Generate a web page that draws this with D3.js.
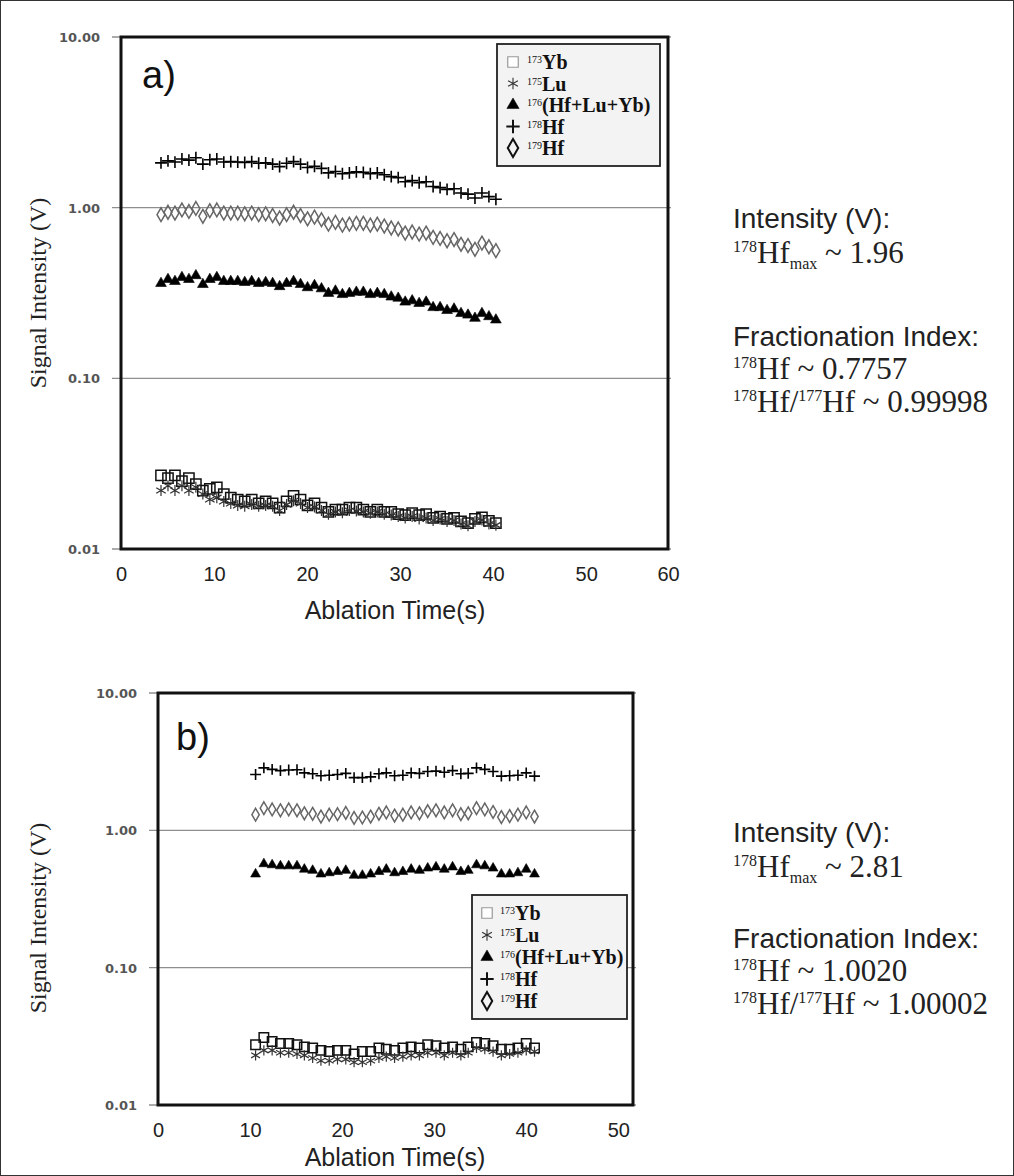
<!DOCTYPE html>
<html><head><meta charset="utf-8">
<script src="https://cdn.jsdelivr.net/npm/d3@7"></script>
<style>body{margin:0;background:#fff}</style></head>
<body><svg id="c" width="1014" height="1176"></svg>
<script>
// ---------- DATA ----------
const seriesNames = ["173Yb","175Lu","176(Hf+Lu+Yb)","178Hf","179Hf"];
const yTickLabels = ["10.00","1.00","0.10","0.01"];
const yTickValues = [10,1,0.1,0.01];
const xTicksA = [0,10,20,30,40,50,60];
const xTicksB = [0,10,20,30,40,50];

const timesA = [4.3,5.05,5.8,6.55,7.3,8.05,8.8,9.55,10.3,11.05,11.8,12.55,13.3,14.05,14.8,15.55,16.3,17.05,17.8,18.55,19.3,20.05,20.8,21.55,22.3,23.05,23.8,24.55,25.3,26.05,26.8,27.55,28.3,29.05,29.8,30.55,31.3,32.05,32.8,33.55,34.3,35.05,35.8,36.55,37.3,38.05,38.8,39.55,40.3];
const yb173A = [0.027,0.026,0.027,0.025,0.026,0.024,0.022,0.0225,0.023,0.021,0.020,0.0195,0.019,0.0195,0.0185,0.019,0.0185,0.0175,0.019,0.0205,0.0195,0.018,0.0185,0.0175,0.0165,0.017,0.017,0.0175,0.0175,0.017,0.0165,0.017,0.0165,0.0165,0.016,0.0158,0.0162,0.0158,0.016,0.0152,0.0155,0.015,0.0152,0.0145,0.0142,0.015,0.0153,0.0146,0.0142];
const lu175A = [0.022,0.0235,0.022,0.0235,0.022,0.023,0.021,0.0195,0.020,0.019,0.0185,0.018,0.0178,0.0182,0.0178,0.018,0.0178,0.0168,0.0182,0.0192,0.0185,0.0175,0.0176,0.0168,0.016,0.0165,0.0163,0.0168,0.0167,0.0165,0.0162,0.0165,0.016,0.0158,0.0155,0.0152,0.0155,0.015,0.0152,0.0147,0.015,0.0145,0.0147,0.014,0.0137,0.0145,0.0148,0.014,0.0138];
const m176A = [0.36,0.38,0.37,0.39,0.38,0.40,0.355,0.38,0.39,0.37,0.37,0.37,0.365,0.37,0.36,0.365,0.36,0.345,0.36,0.37,0.355,0.34,0.35,0.335,0.315,0.325,0.31,0.315,0.32,0.32,0.31,0.315,0.31,0.30,0.295,0.28,0.285,0.275,0.28,0.26,0.26,0.25,0.255,0.24,0.235,0.225,0.24,0.23,0.22];
const hf178A = [1.83,1.88,1.85,1.93,1.90,1.96,1.80,1.91,1.93,1.85,1.86,1.85,1.84,1.86,1.82,1.83,1.80,1.74,1.82,1.86,1.80,1.72,1.75,1.70,1.60,1.63,1.58,1.60,1.62,1.61,1.58,1.60,1.56,1.52,1.50,1.42,1.44,1.40,1.42,1.33,1.31,1.28,1.29,1.22,1.20,1.14,1.22,1.16,1.12];
const hf179A = [0.91,0.94,0.93,0.97,0.95,0.99,0.89,0.96,0.97,0.93,0.93,0.93,0.92,0.93,0.91,0.92,0.90,0.87,0.91,0.94,0.90,0.86,0.88,0.85,0.80,0.82,0.79,0.80,0.81,0.81,0.79,0.80,0.78,0.76,0.75,0.71,0.72,0.70,0.71,0.67,0.66,0.64,0.65,0.61,0.60,0.57,0.62,0.59,0.56];

const timesB = [10.6,11.5,12.4,13.3,14.2,15.1,15.9,16.8,17.7,18.6,19.5,20.4,21.3,22.2,23.1,24.0,24.8,25.7,26.6,27.5,28.4,29.3,30.2,31.1,32.0,32.9,33.7,34.6,35.5,36.4,37.3,38.2,39.1,40.0,40.9];
const yb173B = [0.0275,0.031,0.029,0.028,0.028,0.0275,0.0265,0.026,0.025,0.0245,0.025,0.025,0.0235,0.0245,0.0245,0.026,0.0255,0.025,0.026,0.0265,0.026,0.0275,0.027,0.026,0.0265,0.0255,0.0265,0.0285,0.028,0.027,0.0255,0.0255,0.026,0.028,0.026];
const lu175B = [0.023,0.025,0.025,0.024,0.024,0.0235,0.023,0.022,0.021,0.021,0.0215,0.0215,0.0205,0.0205,0.021,0.022,0.0225,0.022,0.0225,0.023,0.023,0.024,0.024,0.023,0.024,0.023,0.024,0.026,0.0255,0.0245,0.023,0.0235,0.024,0.025,0.0245];
const m176B = [0.48,0.57,0.56,0.55,0.55,0.55,0.52,0.51,0.48,0.49,0.50,0.51,0.47,0.47,0.48,0.50,0.52,0.49,0.50,0.52,0.51,0.53,0.54,0.52,0.54,0.50,0.51,0.56,0.55,0.53,0.48,0.48,0.49,0.52,0.48];
const hf178B = [2.55,2.85,2.78,2.72,2.75,2.76,2.62,2.58,2.50,2.52,2.55,2.60,2.42,2.42,2.45,2.58,2.62,2.50,2.52,2.62,2.60,2.68,2.70,2.65,2.72,2.58,2.60,2.85,2.78,2.68,2.48,2.50,2.52,2.62,2.48];
const hf179B = [1.30,1.45,1.42,1.40,1.42,1.40,1.33,1.32,1.26,1.30,1.31,1.34,1.23,1.24,1.26,1.32,1.35,1.28,1.30,1.35,1.33,1.38,1.40,1.35,1.40,1.31,1.33,1.45,1.42,1.36,1.25,1.27,1.30,1.35,1.26];

// ---------- DRAW ----------
const svg = d3.select('#c');
svg.append('rect').attr('x',0.5).attr('y',0.5).attr('width',1013).attr('height',1175)
  .attr('fill','#fff').attr('stroke','#333').attr('stroke-width',1);

const styles = [
  {type:d3.symbolSquare, size:105, fill:'none', stroke:'#111', sw:1.5},
  {type:d3.symbolAsterisk, size:85, fill:'none', stroke:'#333', sw:1.2},
  {type:d3.symbolTriangle, size:50, fill:'#000', stroke:'#000', sw:0.6},
  {type:d3.symbolPlus, size:48, fill:'none', stroke:'#000', sw:1.6},
  {type:d3.symbolDiamond, size:55, fill:'none', stroke:'#666', sw:1.5}
];

function panel(cfg){
  const g = svg.append('g');
  const x = d3.scaleLinear().domain([0,cfg.xmax]).range([cfg.l,cfg.r]).clamp(true);
  const y = d3.scaleLog().domain([0.01,10]).range([cfg.b,cfg.t]);
  g.selectAll('line.grid').data(yTickValues).enter().append('line')
    .attr('x1',cfg.l-9).attr('x2',cfg.r+3)
    .attr('y1',d=>y(d)).attr('y2',d=>y(d))
    .attr('stroke','#8f8f8f').attr('stroke-width',1.4);
  g.selectAll('text.yl').data(yTickValues).enter().append('text')
    .attr('x',cfg.l-21).attr('y',d=>y(d)+5).attr('text-anchor','end')
    .attr('font-family','DejaVu Sans').attr('font-weight','bold').attr('font-size',13).attr('fill','#555')
    .text((d,i)=>yTickLabels[i]);
  const ax = d3.axisBottom(x).tickValues(cfg.xticks).tickSize(0).tickPadding(18).tickFormat(d3.format('d'));
  const axg = g.append('g').attr('transform',`translate(0,${cfg.b})`).call(ax);
  axg.select('.domain').remove();
  axg.selectAll('text').attr('font-family','Liberation Sans, Arial').attr('font-size',20).attr('fill','#222');
  cfg.series.forEach((vals,si)=>{
    const st = styles[si];
    const sym = d3.symbol().type(st.type).size(st.size*cfg.sc);
    g.append('g').selectAll('path').data(vals).enter().append('path')
      .attr('transform',(d,i)=>`translate(${x(cfg.times[i])},${y(d)})`)
      .attr('d',sym).attr('fill',st.fill).attr('stroke',st.stroke).attr('stroke-width',st.sw);
  });
  g.append('rect').attr('x',cfg.l).attr('y',cfg.t).attr('width',cfg.r-cfg.l).attr('height',cfg.b-cfg.t)
    .attr('fill','none').attr('stroke','#111').attr('stroke-width',3);
  g.append('text').attr('x',cfg.lab[0]).attr('y',cfg.lab[1]).attr('font-family','Liberation Sans, Arial')
    .attr('font-size',38).attr('fill','#111').text(cfg.label);
  g.append('text').attr('transform',`translate(${cfg.yt[0]},${cfg.yt[1]}) rotate(-90)`)
    .attr('text-anchor','middle').attr('font-family','Liberation Serif, Times New Roman')
    .attr('font-size',24).attr('fill','#222').text('Signal Intensity (V)');
  g.append('text').attr('x',cfg.xt[0]).attr('y',cfg.xt[1]).attr('text-anchor','middle')
    .attr('font-family','Liberation Sans, Arial').attr('font-size',25).attr('fill','#222').text('Ablation Time(s)');
  const L = cfg.leg;
  const lg = g.append('g');
  lg.append('rect').attr('x',L.x).attr('y',L.y).attr('width',L.w).attr('height',L.h)
    .attr('fill','#f3f3f3').attr('stroke','#222').attr('stroke-width',1.8);
  seriesNames.forEach((nm,i)=>{
    const st = styles[i];
    const ry = L.y + L.r0 + i*L.step;
    const ls = st.type===d3.symbolSquare ? {fill:'#fff',stroke:'#999',sw:1.2} :
               st.type===d3.symbolAsterisk ? {fill:'none',stroke:'#333',sw:1.1} :
               st.type===d3.symbolDiamond ? {fill:'none',stroke:'#111',sw:2} :
               st.type===d3.symbolPlus ? {fill:'none',stroke:'#111',sw:2} : {fill:'#000',stroke:'#000',sw:0.5};
    const lsize = st.type===d3.symbolDiamond ? 95 : st.type===d3.symbolSquare ? 110 :
                  st.type===d3.symbolTriangle ? 65 : st.type===d3.symbolPlus ? 60 : 90;
    lg.append('path').attr('transform',`translate(${L.x+L.sx},${ry})`)
      .attr('d',d3.symbol().type(st.type).size(lsize)).attr('fill',ls.fill).attr('stroke',ls.stroke)
      .attr('stroke-width', ls.sw);
    const m = nm.match(/^(\d+)(.*)$/);
    const t = lg.append('text').attr('x',L.x+L.tx).attr('y',ry+7)
      .attr('font-family','Liberation Serif, Times New Roman').attr('fill','#111');
    t.append('tspan').attr('font-size',10).attr('dy',-6).text(m[1]);
    t.append('tspan').attr('font-size',20).attr('font-weight','bold').attr('dy',6).text(m[2]);
  });
}

panel({l:121,r:668,t:37,b:549,xmax:58.8,xticks:xTicksA,times:timesA,sc:1,
  series:[yb173A,lu175A,m176A,hf178A,hf179A],
  lab:[142,88],label:'a)',yt:[46,293],xt:[395,619],
  leg:{x:497,y:44,w:163,h:122,r0:18,step:21.5,sx:16,tx:30}});
panel({l:158,r:633,t:693,b:1105,xmax:51.6,xticks:xTicksB,times:timesB,sc:0.85,
  series:[yb173B,lu175B,m176B,hf178B,hf179B],
  lab:[176,750],label:'b)',yt:[46,918],xt:[395,1166],
  leg:{x:472,y:895,w:155,h:124,r0:18,step:22,sx:15,tx:28}});

// ---------- right-side annotations ----------
function annot(x0, yb, maxVal, fi, ratio){
  const sans = 'Liberation Sans, Arial', serif = 'Liberation Serif, Times New Roman';
  svg.append('text').attr('x',x0).attr('y',yb[0]).attr('font-family',sans).attr('font-size',28).attr('fill','#222').text('Intensity (V):');
  let t = svg.append('text').attr('x',x0).attr('y',yb[1]).attr('font-family',serif).attr('font-size',31).attr('fill','#222');
  t.append('tspan').attr('font-size',16).attr('dy',-11).text('178');
  t.append('tspan').attr('dy',11).text('Hf');
  t.append('tspan').attr('font-size',16).attr('dy',6).text('max');
  t.append('tspan').attr('dy',-6).text(' ~ '+maxVal);
  svg.append('text').attr('x',x0).attr('y',yb[2]).attr('font-family',sans).attr('font-size',28).attr('fill','#222').text('Fractionation Index:');
  t = svg.append('text').attr('x',x0).attr('y',yb[3]).attr('font-family',serif).attr('font-size',31).attr('fill','#222');
  t.append('tspan').attr('font-size',16).attr('dy',-11).text('178');
  t.append('tspan').attr('dy',11).text('Hf ~ '+fi);
  t = svg.append('text').attr('x',x0).attr('y',yb[4]).attr('font-family',serif).attr('font-size',31).attr('fill','#222');
  t.append('tspan').attr('font-size',16).attr('dy',-11).text('178');
  t.append('tspan').attr('dy',11).text('Hf/');
  t.append('tspan').attr('font-size',16).attr('dy',-11).text('177');
  t.append('tspan').attr('dy',11).text('Hf ~ '+ratio);
}
annot(733,[228,263,346,379,412],'1.96','0.7757','0.99998');
annot(733,[842,877,948,981,1014],'2.81','1.0020','1.00002');
</script></body></html>
